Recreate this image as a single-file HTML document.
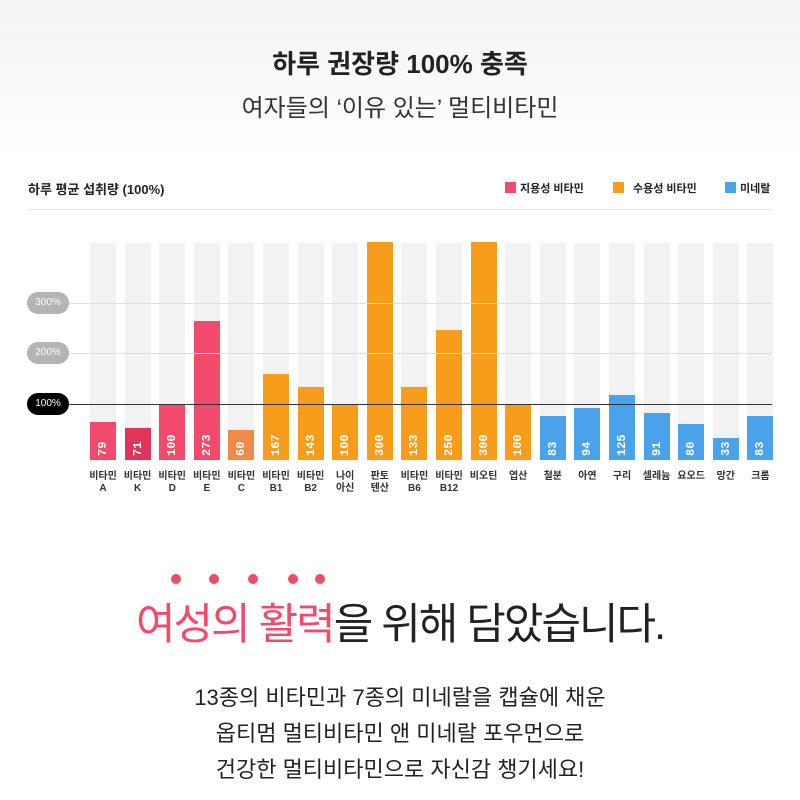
<!DOCTYPE html>
<html><head><meta charset="utf-8"><style>
body{margin:0;width:800px;height:800px;background:#fff;position:relative;overflow:hidden;font-family:"Liberation Sans","Noto Sans CJK KR",sans-serif;color:#222}
.a{position:absolute}
.bg{position:absolute;top:243px;height:217px;width:26px;background:#f2f2f2}
.bar{position:absolute;width:26px;bottom:340px}
.v{position:absolute;bottom:4px;left:0;width:26px;height:30px;color:#fff;font-family:"Liberation Mono",monospace;font-weight:bold;font-size:12px;writing-mode:vertical-rl;transform:rotate(180deg);text-align:left;line-height:26px}
.lb{position:absolute;top:471px;width:40px;text-align:center;font-size:10px;line-height:12px;color:#333;font-weight:bold}
.pill{position:absolute;left:27px;width:42px;height:22px;border-radius:11px;color:#fff;font-size:10px;text-align:center;line-height:22px}
.hl{position:absolute;left:69px;width:703px;height:1px;background:#ddd}
.dot{position:absolute;top:574px;width:10px;height:10px;border-radius:5px;background:#f24a6b}
</style></head><body>
<div class="a" style="top:0;left:0;width:800px;height:160px;background:linear-gradient(#f4f4f4,#fff)"></div>
<div class="a" style="top:44px;width:800px;text-align:center;font-size:26px;font-weight:bold">하루 권장량 100% 충족</div>
<div class="a" style="top:88px;width:800px;text-align:center;font-size:24px;color:#333">여자들의 ‘이유 있는’ 멀티비타민</div>
<div class="a" style="left:28px;top:179px;font-size:13px;font-weight:bold">하루 평균 섭취량 (100%)</div>
<div class="a" style="left:505px;top:182px;width:11px;height:11px;background:#f24a6b"></div>
<div class="a" style="left:520px;top:180px;font-size:11px;font-weight:bold">지용성 비타민</div>
<div class="a" style="left:613px;top:182px;width:11px;height:11px;background:#f89c1c"></div>
<div class="a" style="left:633px;top:180px;font-size:11px;font-weight:bold">수용성 비타민</div>
<div class="a" style="left:725px;top:182px;width:11px;height:11px;background:#4aa3ea"></div>
<div class="a" style="left:740px;top:180px;font-size:11px;font-weight:bold">미네랄</div>
<div class="a" style="left:28px;top:209px;width:744px;height:1px;background:#e6e6e6"></div>
<div id="c"></div>
<div class="hl" style="top:303px"></div>
<div class="hl" style="top:353px"></div>
<div class="hl" style="top:404px;background:#333"></div>
<div class="pill" style="top:292px;background:#b4b4b4">300%</div>
<div class="pill" style="top:342px;background:#b4b4b4">200%</div>
<div class="pill" style="top:393px;background:#000">100%</div>
<script>
var d=[["79",422,"#f24a6b","비타민<br>A"],["71",428,"#e0345a","비타민<br>K"],["100",404,"#f24a6b","비타민<br>D"],["273",321,"#f24a6b","비타민<br>E"],["60",430,"#f08a4b","비타민<br>C"],["167",374,"#f89c1c","비타민<br>B1"],["143",387,"#f89c1c","비타민<br>B2"],["100",404,"#f89c1c","나이<br>아신"],["300",242,"#f89c1c","판토<br>텐산"],["133",387,"#f89c1c","비타민<br>B6"],["250",330,"#f89c1c","비타민<br>B12"],["300",242,"#f89c1c","비오틴"],["100",404,"#f89c1c","엽산"],["83",416,"#4aa3ea","철분"],["94",408,"#4aa3ea","아연"],["125",395,"#4aa3ea","구리"],["91",413,"#4aa3ea","셀레늄"],["80",424,"#4aa3ea","요오드"],["33",438,"#4aa3ea","망간"],["83",416,"#4aa3ea","크롬"]];
var h="";d.forEach(function(e,i){var x=90+i*34.6;h+='<div class="bg" style="left:'+x+'px"></div><div class="bar" style="left:'+x+'px;top:'+e[1]+'px;height:'+(460-e[1])+'px;background:'+e[2]+'"><div class="v">'+e[0]+'</div></div><div class="lb" style="left:'+(x-7)+'px">'+e[3]+'</div>';});
document.getElementById("c").innerHTML=h;
</script>
<div class="dot" style="left:171px"></div>
<div class="dot" style="left:209px"></div>
<div class="dot" style="left:248px"></div>
<div class="dot" style="left:288px"></div>
<div class="dot" style="left:315px"></div>
<div class="a" style="top:590px;width:800px;text-align:center;font-size:43px;letter-spacing:-2px;color:#222"><span style="color:#f24a6b">여성의 활력</span>을 위해 담았습니다.</div>
<div class="a" style="top:680px;width:800px;text-align:center;font-size:22px;line-height:36px;color:#222">13종의 비타민과 7종의 미네랄을 캡슐에 채운<br>옵티멈 멀티비타민 앤 미네랄 포우먼으로<br>건강한 멀티비타민으로 자신감 챙기세요!</div>
</body></html>
